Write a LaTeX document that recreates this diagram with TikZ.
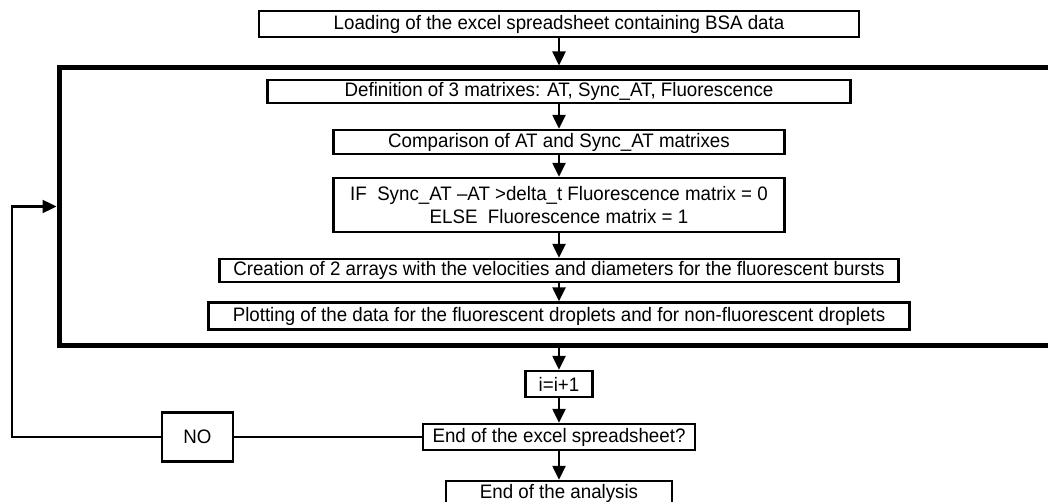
\documentclass[tikz,border=0pt]{standalone}
\usepackage{fontspec}
\setmainfont[FakeStretch=0.96]{Liberation Sans}
\usepackage{tikz}
\usetikzlibrary{arrows.meta, positioning, calc}

\begin{document}
\begin{tikzpicture}[
    x=1pt, y=1pt,
    >={Triangle[length=14pt, width=13pt]},
    flowbox/.style={draw, line width=2.4pt, inner sep=0pt, align=center, font=\fontsize{19.5}{23}\selectfont},
    flow/.style={->, line width=2.4pt},
]
    \useasboundingbox (0,0) rectangle (1048,-502);
    \clip (0,0) rectangle (1048,-502);
    \node[flowbox, minimum width=600pt, minimum height=26pt] (load) at (559,-24) {Loading of the excel spreadsheet containing BSA data};
    \node[draw, line width=5pt, minimum width=1001pt, minimum height=277pt] (loop) at (559.5,-206.5) {};
    \node[flowbox, minimum width=583pt, minimum height=23pt] (defn) at (559,-91.5) {Definition of 3 matrixes: AT, Sync\_AT, Fluorescence};
    \node[flowbox, minimum width=451pt, minimum height=24pt] (comp) at (559,-142) {Comparison of AT and Sync\_AT matrixes};
    \node[flowbox, minimum width=451pt, minimum height=54pt] (cond) at (559,-205) {IF\ \ Sync\_AT –AT >delta\_t Fluorescence matrix = 0\\ELSE\ \ Fluorescence matrix = 1};
    \node[flowbox, minimum width=679pt, minimum height=23pt] (arrays) at (559,-270.5) {Creation of 2 arrays with the velocities and diameters for the fluorescent bursts};
    \node[flowbox, minimum width=701pt, minimum height=27pt] (plot) at (559,-316) {Plotting of the data for the fluorescent droplets and for non-fluorescent droplets};
    \node[flowbox, minimum width=67pt, minimum height=26pt] (incr) at (559,-384) {i=i+1};
    \node[flowbox, minimum width=272pt, minimum height=26pt] (endxl) at (559,-437) {End of the excel spreadsheet?};
    \node[flowbox, minimum width=226pt, minimum height=24pt] (endana) at (559,-493) {End of the analysis};
    \node[flowbox, minimum width=71pt, minimum height=49pt] (no) at (197.5,-437) {NO};
    \coordinate (turn) at (12,-437);
    \draw[flow] (load) -- (load |- loop.north);
    \draw[flow] (defn) -- (comp);
    \draw[flow] (comp) -- (cond);
    \draw[flow] (cond) -- (arrays);
    \draw[flow] (arrays) -- (plot);
    \draw[flow] (loop.south -| incr) -- (incr);
    \draw[flow] (incr) -- (endxl);
    \draw[flow] (endxl) -- (endana);
    \draw[line width=2.4pt] (endxl) -- (no);
    \draw[flow] (no) -- (turn) |- (loop.west);
\end{tikzpicture}
\end{document}
